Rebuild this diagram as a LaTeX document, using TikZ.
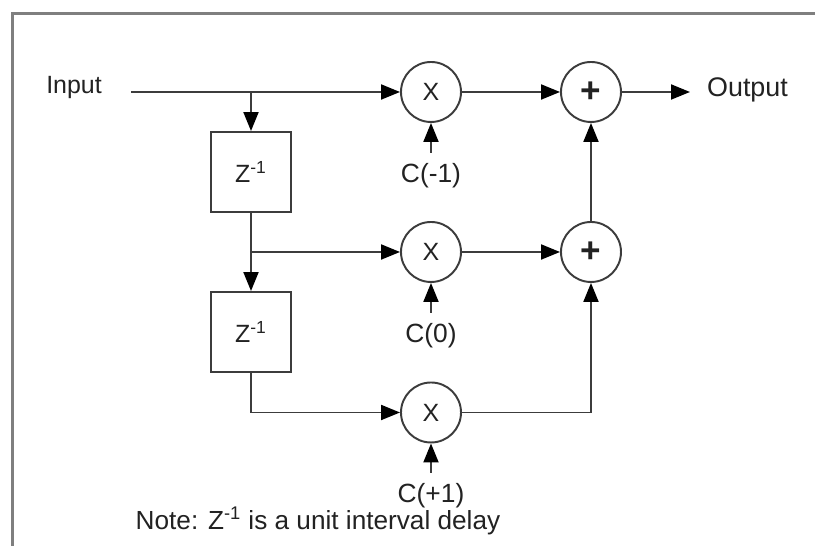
\documentclass[tikz,border=0pt]{standalone}
\usepackage{fontspec}
\setmainfont{Liberation Sans}
\usetikzlibrary{arrows.meta, positioning}
\definecolor{cline}{HTML}{3C3C3C}
\definecolor{cframe}{HTML}{7F7F7F}
\definecolor{ctext}{HTML}{222222}
\newcommand{\zinv}{Z\textsuperscript{-1}}
\tikzset{
  every picture/.style={line width=1.1pt},
  every node/.append style={font=\fontsize{14.2}{17}\selectfont, text=ctext},
  delaybox/.style={draw=cline, minimum size=1.6cm, inner sep=0pt},
  opnode/.style={draw=cline, circle, minimum size=1.2cm, inner sep=0pt},
  arrow/.style={-{Triangle[length=3.8mm, width=3mm, color=black]}, draw=cline},
  coef/.style={inner sep=5.5pt, font=\fontsize{15}{18}\selectfont},
  addnode/.style={opnode, font=\fontsize{20}{20}\selectfont\bfseries},
}
\begin{document}
\begin{tikzpicture}
  \useasboundingbox (0,0) rectangle (16.3,10.92);
  \fill[white] (0,0) rectangle (16.3,10.92);
  \coordinate (frameb) at (0.25,0);
  \coordinate (framec) at (0.25,10.65);
  \coordinate (framer) at (16.3,10.65);
  \draw[cframe, line width=1.7pt] (frameb) -- (framec) -- (framer);

  \node (inp) at (1.48,9.16) {Input};
  \coordinate (inpend) at (2.62,9.08);
  \node[font=\fontsize{15.3}{18}\selectfont] (outp) at (14.95,9.12) {Output};
  \coordinate (outend) at (13.8,9.08);

  % delay line
  \node[delaybox] (zone) at (5.02,7.48) {\zinv};
  \node[delaybox] (ztwo) at (5.02,4.28) {\zinv};

  % multipliers
  \node[opnode] (mula) at (8.62,9.08) {X};
  \node[opnode] (mulb) at (8.62,5.88) {X};
  \node[opnode] (mulc) at (8.62,2.67) {X};
  \node[coef] (ca) at (8.62,7.41) {C(-1)};
  \node[coef] (cb) at (8.62,4.21) {C(0)};
  \node[coef] (cc) at (8.62,1.01) {C(+1)};

  % adders
  \node[addnode] (adda) at (11.82,9.08) {+};
  \node[addnode] (addb) at (11.82,5.88) {+};

  \draw[arrow] (inpend) -- (mula.west);
  \draw[arrow] (zone.north |- mula) -- (zone.north);
  \draw[arrow] (zone.south) -- (ztwo.north);
  \draw[arrow] (zone.south |- mulb) -- (mulb.west);
  \draw[arrow] (ztwo.south) |- (mulc.west);

  \draw[arrow] (ca.north) -- (mula.south);
  \draw[arrow] (cb.north) -- (mulb.south);
  \draw[arrow] (cc.north) -- (mulc.south);

  \draw[arrow] (mula.east) -- (adda.west);
  \draw[arrow] (mulb.east) -- (addb.west);
  \draw[arrow] (mulc.east) -| (addb.south);
  \draw[arrow] (addb.north) -- (adda.south);
  \draw[arrow] (adda.east) -- (outend);

  \node[font=\fontsize{14.9}{18}\selectfont] (note) at (6.36,0.5) {Note: \zinv{} is a unit interval delay};
\end{tikzpicture}
\end{document}
